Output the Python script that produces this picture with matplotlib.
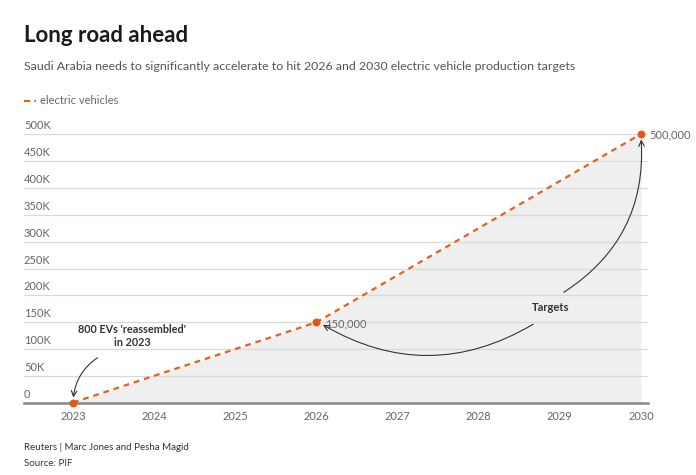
import matplotlib.pyplot as plt
from matplotlib.lines import Line2D

years = [2023, 2026, 2030]
vehicles = [800, 150000, 500000]
point_labels = ["", "150,000", "500,000"]
year_ticks = [2023, 2024, 2025, 2026, 2027, 2028, 2029, 2030]
y_ticks = [0, 50000, 100000, 150000, 200000, 250000, 300000, 350000, 400000, 450000, 500000]
y_tick_labels = ["0", "50K", "100K", "150K", "200K", "250K", "300K", "350K", "400K", "450K", "500K"]

plt.rcParams['font.family'] = ['Lato', 'DejaVu Sans']

orange = '#e8601c'
grey_txt = '#666666'

fig = plt.figure(figsize=(6.96, 4.75), dpi=100)
ax = fig.add_axes([24 / 696, 1 - 403 / 475, (648 - 24) / 696, (403 - 134) / 475])

ax.fill_between(years, vehicles, 0, color='#efefef', zorder=0.3, linewidth=0)
ax.plot(years, vehicles, color=orange, linestyle=(0, (2.6, 2.2)), linewidth=1.6, zorder=3)
ax.scatter(years, vehicles, color='#e2571a', s=22, zorder=4, clip_on=False)

for x, y, lab in zip(years, vehicles, point_labels):
    if lab:
        ax.annotate(lab, (x, y), xytext=(6, -1), textcoords='offset points',
                    fontsize=8, color=grey_txt, va='center', ha='left')

ax.set_xlim(2023 - 49 / 81.1, 2030 + 7 / 81.1)
ax.set_ylim(0, 500000)
ax.set_xticks(year_ticks)
ax.set_xticklabels([str(y) for y in year_ticks], fontsize=8, color=grey_txt)
ax.tick_params(axis='x', length=0, pad=6)
ax.set_yticks(y_ticks)
ax.set_yticklabels([])
ax.tick_params(axis='y', length=0)
ax.yaxis.grid(True, color='#d9d9d9', linewidth=0.9)
ax.set_axisbelow(True)
for s in ['top', 'right', 'left']:
    ax.spines[s].set_visible(False)
ax.spines['bottom'].set_color('#888888')
ax.spines['bottom'].set_linewidth(1.8)

trans = ax.get_yaxis_transform()
for v, lab in zip(y_ticks, y_tick_labels):
    ax.text(0, v + 5500, lab, transform=trans, fontsize=8, color=grey_txt,
            ha='left', va='bottom')

# annotations
ax.text(2023.73, 124500, "800 EVs 'reassembled'\nin 2023", fontsize=7.8, fontweight='bold',
        color='#333333', ha='center', va='center', linespacing=1.25)
ax.annotate("", xy=(2023.0, 5000), xytext=(2023.33, 87000),
            arrowprops=dict(arrowstyle='->', color='#333333', lw=0.8,
                            connectionstyle='arc3,rad=0.25'))
ax.text(2028.89, 177000, "Targets", fontsize=8, fontweight='bold', color='#333333',
        ha='center', va='center')
ax.annotate("", xy=(2030.0, 495000), xytext=(2029.02, 203000),
            arrowprops=dict(arrowstyle='->', color='#333333', lw=0.8,
                            connectionstyle='arc3,rad=0.3'))
ax.annotate("", xy=(2026.05, 148000), xytext=(2028.7, 149000),
            arrowprops=dict(arrowstyle='->', color='#333333', lw=0.8,
                            connectionstyle='arc3,rad=-0.3'))

# title, subtitle, legend
fig.text(24 / 696, 1 - 36 / 475, "Long road ahead", fontsize=16, fontweight='bold',
         color='#1a1a1a', va='center')
fig.text(24 / 696, 1 - 67 / 475,
         "Saudi Arabia needs to significantly accelerate to hit 2026 and 2030 electric vehicle production targets",
         fontsize=8.9, color='#555555', va='center')
fig.add_artist(Line2D([24 / 696, 36 / 696], [1 - 101 / 475, 1 - 101 / 475], color=orange,
                      linestyle=(0, (3, 2)), linewidth=1.5))
fig.text(40 / 696, 1 - 101 / 475, "electric vehicles", fontsize=8, color=grey_txt, va='center')

# footer
fig.text(24 / 696, 1 - 448 / 475, "Reuters | Marc Jones and Pesha Magid", fontsize=7,
         color='#333333', va='center')
fig.text(24 / 696, 1 - 464 / 475, "Source: PIF", fontsize=7, color='#333333', va='center')

fig.savefig('out.png', dpi=100, facecolor='white')
